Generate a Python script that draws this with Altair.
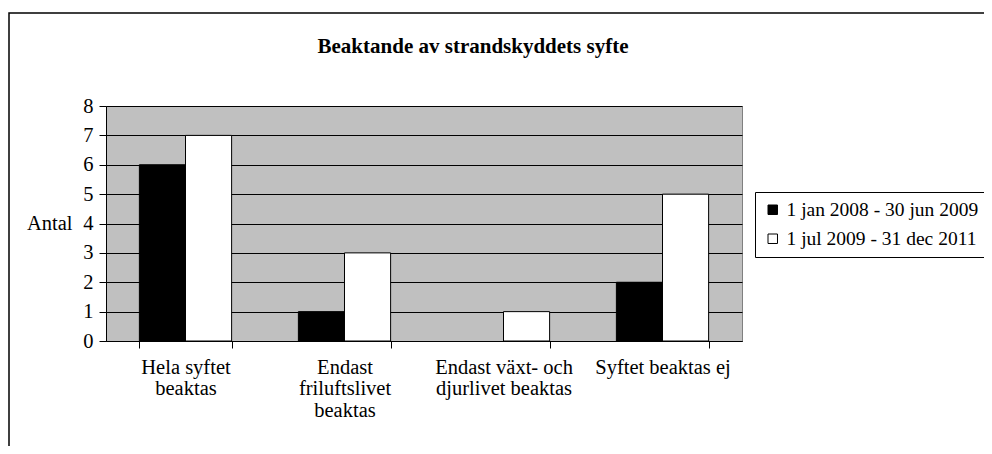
import altair as alt
import pandas as pd

categories = ["Hela syftet|beaktas", "Endast|friluftslivet|beaktas",
              "Endast växt- och|djurlivet beaktas", "Syftet beaktas ej"]
series_names = ["1 jan 2008 - 30 jun 2009", "1 jul 2009 - 31 dec 2011"]
series1 = [6, 1, 0, 2]
series2 = [7, 3, 1, 5]
title_text = "Beaktande av strandskyddets syfte"
y_title = "Antal"
y_ticks = [0, 1, 2, 3, 4, 5, 6, 7, 8]

rows = []
for c, a, b in zip(categories, series1, series2):
    rows.append({"Kategori": c, "Serie": series_names[0], "Antal": a})
    rows.append({"Kategori": c, "Serie": series_names[1], "Antal": b})
df = pd.DataFrame(rows)

FONT = "Liberation Serif"
FS = 20.5

bars = alt.Chart(df).transform_filter("datum.Antal > 0").mark_bar(
    stroke="black", strokeWidth=1).encode(
    x=alt.X("Kategori:N", sort=categories,
            scale=alt.Scale(domain=categories, paddingInner=0.42, paddingOuter=0.21),
            axis=alt.Axis(title=None, labelAngle=0, tickBand="extent", tickSize=7,
                          tickColor="black", domainColor="black",
                          labelExpr="datum.value ? split(datum.value, '|') : ''",
                          labelFont=FONT, labelFontSize=FS, labelColor="black",
                          labelLineHeight=21.5, labelBaseline="top", labelPadding=9,
                          labelLimit=300, grid=False)),
    xOffset=alt.XOffset("Serie:N", sort=series_names,
                        scale=alt.Scale(domain=series_names)),
    y=alt.Y("Antal:Q", scale=alt.Scale(domain=[0, 8], nice=False),
            axis=alt.Axis(values=y_ticks, title=y_title, titleAngle=0,
                          titleX=-34, titleY=117, titleAlign="right",
                          titleBaseline="middle", titleFont=FONT,
                          titleFontSize=FS, titleFontWeight="normal",
                          titleColor="black",
                          labelFont=FONT, labelFontSize=FS, labelColor="black",
                          labelPadding=6, tickSize=7, tickColor="black",
                          domainColor="black", grid=True, gridColor="black",
                          gridWidth=1, gridOpacity=1)),
    color=alt.Color("Serie:N", sort=series_names,
                    scale=alt.Scale(domain=series_names, range=["black", "white"]),
                    legend=alt.Legend(title=None, orient="none", legendX=649, legendY=86,
                                      fillColor="white", strokeColor="black",
                                      padding=8, rowPadding=8,
                                      symbolType="square", symbolSize=90,
                                      symbolStrokeColor="black", symbolStrokeWidth=1,
                                      labelFont=FONT, labelFontSize=19.5,
                                      labelColor="black", labelOffset=4,
                                      labelLimit=400)),
)

title = alt.Chart(pd.DataFrame({"t": [title_text]})).mark_text(
    font=FONT, fontSize=21, fontWeight="bold", color="black",
    align="center", baseline="alphabetic").encode(
    text="t:N", x=alt.value(367), y=alt.value(-53))

frame = alt.Chart(pd.DataFrame({"f": [1]})).mark_rect(
    fillOpacity=0, stroke="black", strokeWidth=1.5).encode(
    x=alt.value(-97), x2=alt.value(950), y=alt.value(-93), y2=alt.value(450))

chart = alt.layer(frame, bars, title).properties(
    width=636, height=235,
    autosize=alt.AutoSizeParams(type="none"),
    padding={"left": 98, "top": 98, "right": 242, "bottom": 105},
).configure_view(fill="#C0C0C0", stroke="#808080", strokeWidth=1)

chart.save("out.html", embed_options={"renderer": "svg", "actions": False})
